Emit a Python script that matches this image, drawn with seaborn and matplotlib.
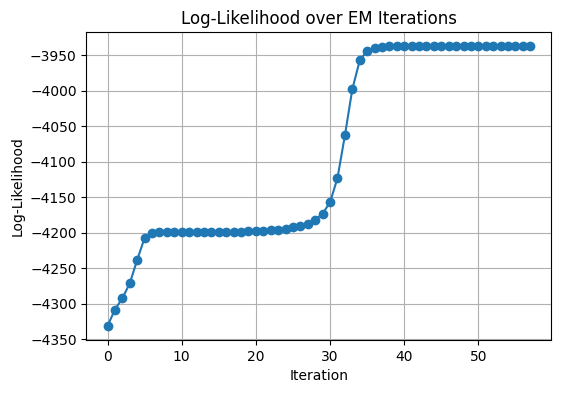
import numpy as np
import pandas as pd
import matplotlib
matplotlib.use('Agg')
import matplotlib.pyplot as plt
import seaborn as sns

# log-likelihood per EM iteration
iterations = list(range(58))
log_lik = [-4331, -4308, -4292, -4271, -4238, -4207, -4200.5, -4199.5, -4199, -4199.5,
           -4199.5, -4199.5, -4198.5, -4198.5, -4198.5, -4198.5, -4198.5, -4198.5, -4198.5, -4197.5,
           -4197, -4197, -4196, -4195.5, -4194, -4192, -4190, -4187, -4181.5, -4173,
           -4157, -4123, -4063, -3998, -3957.5, -3944, -3940.5, -3938.5, -3937.8, -3937.5,
           -3937.4, -3937.4, -3937.4, -3937.4, -3937.4, -3937.4, -3937.4, -3937.4, -3937.4, -3937.4,
           -3937.4, -3937.4, -3937.4, -3937.4, -3937.4, -3937.4, -3937.4, -3937.4]

df = pd.DataFrame({'Iteration': iterations, 'Log-Likelihood': log_lik})

fig, ax = plt.subplots(figsize=(5.61, 3.93), dpi=100)
fig.subplots_adjust(left=0.154, right=0.983, bottom=0.135, top=0.918)

sns.lineplot(data=df, x='Iteration', y='Log-Likelihood', marker='o', color='#1f77b4',
             markeredgecolor='#1f77b4', markeredgewidth=1, markersize=6, linewidth=1.5, ax=ax)
ax.set_title('Log-Likelihood over EM Iterations')
ax.set_xlabel('Iteration')
ax.set_ylabel('Log-Likelihood')
ax.grid(True)

fig.savefig('out.png', dpi=100)
